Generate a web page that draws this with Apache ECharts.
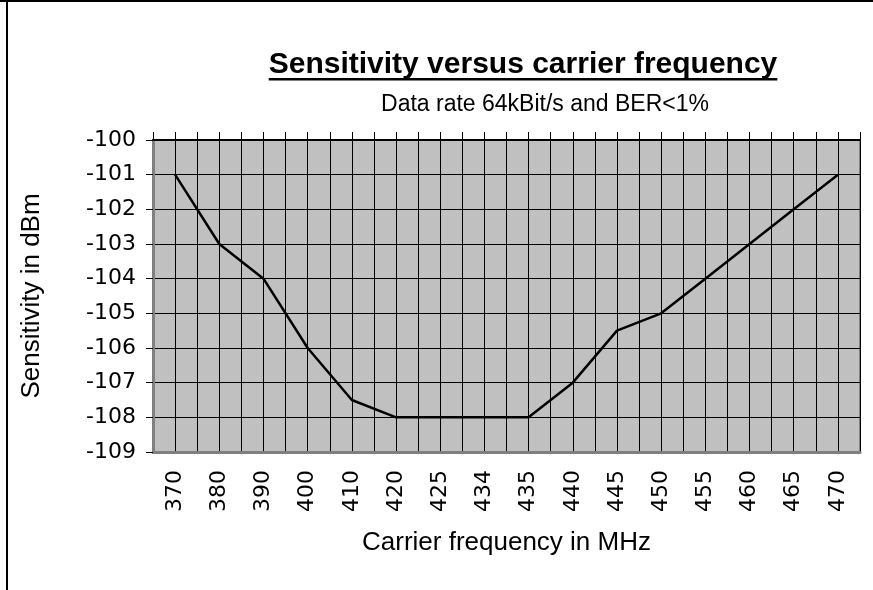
<!DOCTYPE html>
<html>
<head>
<meta charset="utf-8">
<script src="https://cdn.jsdelivr.net/npm/echarts@6/dist/echarts.min.js"></script>
<style>html,body{margin:0;padding:0;background:#fff;}#c{width:873px;height:590px;}</style>
</head>
<body>
<div id="c"></div>
<script>
var titleText = 'Sensitivity versus carrier frequency';
var subtitleText = 'Data rate 64kBit/s and BER<1%';
var xName = 'Carrier frequency in MHz';
var yName = 'Sensitivity in dBm';
var categories = ['370','380','390','400','410','420','425','434','435','440','445','450','455','460','465','470'];
var sensitivity = [-101,-103,-104,-106,-107.5,-108,-108,-108,-108,-107,-105.5,-105,-104,-103,-102,-101];
var yMin = -109, yMax = -100, yStep = 1;

var titleFont = 'bold 30px "Liberation Sans"';
var cv = document.createElement('canvas').getContext('2d');
cv.font = titleFont;
var tw = cv.measureText(titleText).width;
var titleCx = 523;

var chart = echarts.init(document.getElementById('c'), null, {renderer:'canvas'});
chart.setOption({
  animation: false,
  backgroundColor: '#ffffff',
  title: [
    {text: titleText, left: titleCx, top: 50, textAlign: 'center', padding: 0,
     textStyle: {fontFamily: 'Liberation Sans', fontWeight: 'bold', fontSize: 30, color: '#000'}},
    {text: subtitleText, left: 545, top: 93, textAlign: 'center', padding: 0,
     textStyle: {fontFamily: 'Liberation Sans', fontWeight: 'normal', fontSize: 23, color: '#000'}}
  ],
  graphic: [
    {type: 'rect', shape: {x: titleCx - tw/2, y: 78, width: tw, height: 2.5}, style: {fill: '#000'}},
    {type: 'line', shape: {x1: 0, y1: 1, x2: 873, y2: 1}, style: {stroke: '#000', lineWidth: 2}},
    {type: 'line', shape: {x1: 7, y1: 0, x2: 7, y2: 590}, style: {stroke: '#000', lineWidth: 2}}
  ],
  grid: {left: 153, right: 13, top: 140, bottom: 138, show: true,
         backgroundColor: '#c0c0c0', borderColor: '#808080', borderWidth: 2},
  xAxis: [
    {type: 'category', data: categories, position: 'bottom', boundaryGap: true,
     axisLine: {show: true, lineStyle: {color: '#808080', width: 3}},
     axisTick: {show: false},
     splitLine: {show: false},
     axisLabel: {rotate: 90, margin: 18, fontFamily: 'DejaVu Sans', fontSize: 22, color: '#000', interval: 0},
     name: xName, nameLocation: 'middle', nameGap: 78,
     nameTextStyle: {fontFamily: 'Liberation Sans', fontSize: 26, color: '#000'}},
    {type: 'value', position: 'top', min: 0, max: categories.length * 2, interval: 1,
     axisLine: {show: true, lineStyle: {color: '#000', width: 2}},
     axisTick: {show: true, inside: false, length: 8, lineStyle: {color: '#000', width: 1}},
     axisLabel: {show: false},
     splitLine: {show: true, lineStyle: {color: '#000', width: 1}}}
  ],
  yAxis: {type: 'value', min: yMin, max: yMax, interval: yStep,
    axisLine: {show: true, lineStyle: {color: '#808080', width: 3}},
    axisTick: {show: true, length: 7, lineStyle: {color: '#000', width: 1}},
    axisLabel: {margin: 17, fontFamily: 'DejaVu Sans', fontSize: 22, color: '#000'},
    splitLine: {show: true, lineStyle: {color: '#000', width: 1}},
    name: yName, nameLocation: 'middle', nameGap: 108,
    nameTextStyle: {fontFamily: 'Liberation Sans', fontSize: 26, color: '#000'}},
  series: [{type: 'line', xAxisIndex: 0, data: sensitivity, showSymbol: false, symbol: 'none',
    lineStyle: {color: '#000', width: 2.5}}]
});
</script>
</body>
</html>
